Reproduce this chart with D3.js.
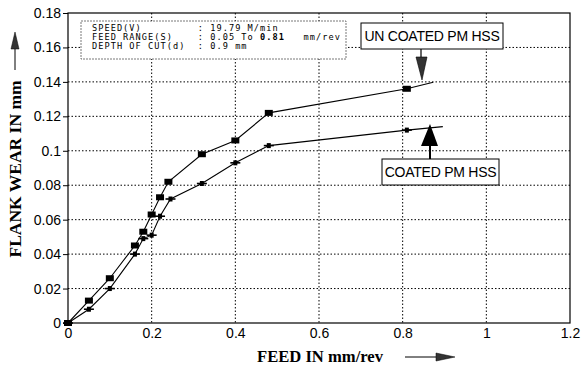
<!DOCTYPE html>
<html>
<head>
<meta charset="utf-8">
<script src="https://cdn.jsdelivr.net/npm/d3@7"></script>
<style>
  html, body { margin: 0; padding: 0; background: #fff; }
  svg { display: block; }
</style>
</head>
<body>
<svg id="chart" width="582" height="371"></svg>
<script>
// Flank wear vs feed, coated and uncoated PM HSS tools
const feedUncoated = [0, 0.05, 0.10, 0.16, 0.18, 0.20, 0.22, 0.24, 0.32, 0.40, 0.48, 0.81];
const wearUncoated = [0, 0.013, 0.026, 0.045, 0.053, 0.063, 0.073, 0.082, 0.098, 0.106, 0.122, 0.136];
const feedCoated   = [0, 0.05, 0.10, 0.16, 0.18, 0.20, 0.22, 0.245, 0.32, 0.40, 0.48, 0.81];
const wearCoated   = [0, 0.008, 0.020, 0.040, 0.049, 0.051, 0.062, 0.072, 0.081, 0.093, 0.103, 0.112];
// trend lines continue a little past the last reading
const tailUncoated = [0.873, 0.1398];
const tailCoated   = [0.896, 0.114];

const xTicks = [0, 0.2, 0.4, 0.6, 0.8, 1, 1.2];
const yTicks = [0, 0.02, 0.04, 0.06, 0.08, 0.1, 0.12, 0.14, 0.16, 0.18];

const infoRows = [
  ["SPEED(V)", "19.79 M/min"],
  ["FEED RANGE(S)", "0.05 To |0.81| mm/rev"],
  ["DEPTH OF CUT(d)", "0.9 mm"]
];

const svg = d3.select("#chart");
const L = 68, R = 570, T = 13, B = 323;

const x = d3.scaleLinear().domain([0, 1.2]).range([L, R]);
const y = d3.scaleLinear().domain([0, 0.18]).range([B, T]);

const sans = "Liberation Sans, Arial, sans-serif";
const serif = "Liberation Serif, Times New Roman, serif";
const mono = "DejaVu Sans Mono, Liberation Mono, monospace";

// dotted grid
const grid = svg.append("g");
grid.selectAll("line.v").data(xTicks.slice(1, -1)).join("line")
  .attr("x1", d => x(d)).attr("x2", d => x(d))
  .attr("y1", T).attr("y2", B)
  .attr("stroke", "#000").attr("stroke-width", 1).attr("stroke-dasharray", "1.5,2");
grid.selectAll("line.h").data(yTicks.slice(1, -1)).join("line")
  .attr("x1", L).attr("x2", R)
  .attr("y1", d => y(d)).attr("y2", d => y(d))
  .attr("stroke", "#000").attr("stroke-width", 1).attr("stroke-dasharray", "1.5,2");

// frame
svg.append("rect").attr("x", L).attr("y", T).attr("width", R - L).attr("height", B - T)
  .attr("fill", "none").attr("stroke", "#000").attr("stroke-width", 1.2);

// axes
const yAxis = svg.append("g").attr("transform", `translate(${L},0)`)
  .call(d3.axisLeft(y).tickValues(yTicks).tickSize(5).tickPadding(2)
    .tickFormat(d => d === 0 ? "0" : d3.format("~g")(d)));
yAxis.select(".domain").remove();
yAxis.selectAll("text").attr("font-family", sans).attr("font-size", 14).attr("fill", "#000");
yAxis.selectAll("line").attr("stroke", "#000");

const xAxis = svg.append("g").attr("transform", `translate(0,${B})`)
  .call(d3.axisBottom(x).tickValues(xTicks).tickSize(0).tickPadding(4)
    .tickFormat(d => d3.format("~g")(d)));
xAxis.select(".domain").remove();
xAxis.selectAll("text").attr("font-family", sans).attr("font-size", 14).attr("fill", "#000")
  .attr("dy", "0.75em");

// series
const line = d3.line().x(d => x(d[0])).y(d => y(d[1]));
const ptsU = feedUncoated.map((f, i) => [f, wearUncoated[i]]);
const ptsC = feedCoated.map((f, i) => [f, wearCoated[i]]);

svg.append("path").attr("d", line(ptsU.concat([tailUncoated])))
  .attr("fill", "none").attr("stroke", "#000").attr("stroke-width", 1.1);
svg.append("path").attr("d", line(ptsC.concat([tailCoated])))
  .attr("fill", "none").attr("stroke", "#000").attr("stroke-width", 1.1);

svg.append("g").selectAll("rect").data(ptsU).join("rect")
  .attr("x", d => x(d[0]) - 4).attr("y", d => y(d[1]) - 3)
  .attr("width", 8).attr("height", 6).attr("fill", "#000");

const mC = svg.append("g").selectAll("g").data(ptsC).join("g")
  .attr("transform", d => `translate(${x(d[0])},${y(d[1])})`);
mC.append("line").attr("x1", -5).attr("x2", 5).attr("y1", 0).attr("y2", 0)
  .attr("stroke", "#000").attr("stroke-width", 1.6);
mC.append("rect").attr("x", -2).attr("y", -2.5).attr("width", 4).attr("height", 5).attr("fill", "#000");

// info box
const info = svg.append("g");
info.append("rect").attr("x", 81).attr("y", 21).attr("width", 265).attr("height", 38)
  .attr("fill", "#fff").attr("stroke", "#555").attr("stroke-width", 0.8).attr("stroke-dasharray", "2,1");
infoRows.forEach((r, i) => {
  const t = info.append("text").attr("x", 92).attr("y", 31 + i * 9)
    .attr("font-family", mono).attr("font-size", 8.6).attr("letter-spacing", 1.05)
    .attr("fill", "#000")
    .attr("xml:space", "preserve").style("white-space", "pre");
  const parts = r[1].split("|");
  t.append("tspan").text(r[0].padEnd(17, " ") + ": " + parts[0]);
  if (parts.length > 1) {
    t.append("tspan").attr("font-weight", "bold").text(parts[1]);
    t.append("tspan").text("  " + parts[2]);
  }
});

// callouts
function callout(label, bx, by, bw, bh) {
  svg.append("rect").attr("x", bx).attr("y", by).attr("width", bw).attr("height", bh)
    .attr("fill", "#fff").attr("stroke", "#000").attr("stroke-width", 1);
  svg.append("text").attr("x", bx + bw / 2).attr("y", by + bh / 2 + 5)
    .attr("text-anchor", "middle").attr("font-family", sans).attr("font-size", 14)
    .attr("letter-spacing", -0.25).attr("fill", "#000").text(label);
}
callout("UN COATED PM HSS", 361, 23, 142, 26);
callout("COATED PM HSS", 382, 159, 117, 26);

// down arrow toward the uncoated trend
svg.append("line").attr("x1", 421).attr("x2", 421).attr("y1", 49).attr("y2", 58)
  .attr("stroke", "#000").attr("stroke-width", 1.2);
svg.append("path").attr("d", "M416,57 L427,57 L422,80 Z").attr("fill", "#333").attr("stroke", "#000").attr("stroke-width", 0.6);

// up arrow toward the coated trend
svg.append("line").attr("x1", 430).attr("x2", 430).attr("y1", 145).attr("y2", 159)
  .attr("stroke", "#000").attr("stroke-width", 2);
svg.append("path").attr("d", "M421,146 L438,146 L430,124 Z").attr("fill", "#000");

// axis titles
svg.append("text").attr("transform", "translate(21,169) rotate(-90)")
  .attr("text-anchor", "middle").attr("font-family", serif).attr("font-weight", "bold")
  .attr("font-size", 17.5).attr("fill", "#000").text("FLANK WEAR IN mm");
svg.append("line").attr("x1", 15).attr("x2", 15).attr("y1", 70).attr("y2", 46)
  .attr("stroke", "#000").attr("stroke-width", 1);
svg.append("path").attr("d", "M11,49 L19,49 L15,32 Z").attr("fill", "#333").attr("stroke", "#000").attr("stroke-width", 0.5);

svg.append("text").attr("x", 320).attr("y", 362)
  .attr("text-anchor", "middle").attr("font-family", serif).attr("font-weight", "bold")
  .attr("font-size", 16.6).attr("fill", "#000").text("FEED IN mm/rev");
svg.append("line").attr("x1", 405).attr("x2", 438).attr("y1", 357).attr("y2", 357)
  .attr("stroke", "#000").attr("stroke-width", 1);
svg.append("path").attr("d", "M436,353 L436,361 L455,357 Z").attr("fill", "#333").attr("stroke", "#000").attr("stroke-width", 0.5);
</script>
</body>
</html>
